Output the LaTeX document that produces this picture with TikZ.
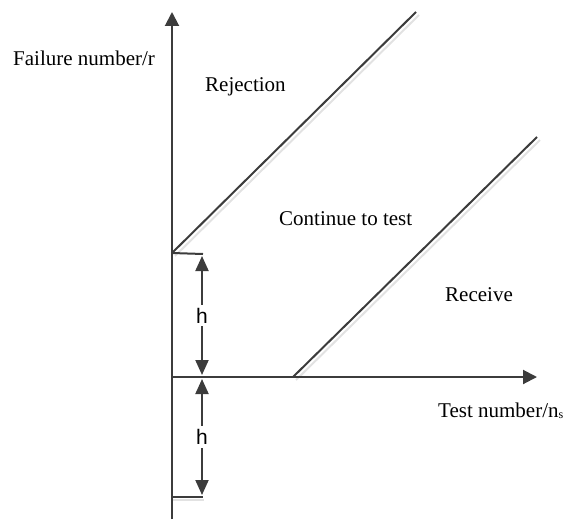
\documentclass[tikz,border=0pt]{standalone}
\usepackage{fontspec}
\setmainfont{Liberation Serif}
\newfontfamily\hfont{Liberation Sans}
\usetikzlibrary{arrows.meta}
\definecolor{ln}{HTML}{3C3C3C}
\definecolor{shd}{HTML}{E2E2E2}
\begin{document}
\begin{tikzpicture}[x=1pt,y=-1pt,
  axis/.style={draw=ln,line width=2pt,-{Triangle[length=14pt,width=14pt]}},
  plain/.style={draw=ln,line width=2pt},
  shadow/.style={draw=shd,line width=2pt},
  harrow/.style={draw=ln,line width=2pt,{Triangle[length=15pt,width=13pt]}-{Triangle[length=15pt,width=13pt]}},
  lbl/.style={font=\fontsize{21}{24}\selectfont,anchor=base west,inner sep=0pt},
  hl/.style={font=\hfont\fontsize{21}{24}\selectfont,fill=white,inner sep=3pt}]
\useasboundingbox (0,0) rectangle (567,519);
% coordinates
\coordinate (O) at (172,377);
\coordinate (ytop) at (172,12);
\coordinate (ybot) at (172,519);
\coordinate (xend) at (537,377);
\coordinate (A) at (172,253);
\coordinate (A2) at (416,12);
\coordinate (B) at (293,377);
\coordinate (B2) at (537,137);
\coordinate (T1) at (203,254);
\coordinate (C) at (172,497);
\coordinate (T2) at (203,497);
\coordinate (h1a) at (202,256);
\coordinate (h1b) at (202,375);
\coordinate (h2a) at (202,379);
\coordinate (h2b) at (202,495);
% shadows
\draw[shadow] ([shift={(3,3)}]A) -- ([shift={(3,3)}]A2);
\draw[shadow] ([shift={(3,3)}]B) -- ([shift={(3,3)}]B2);
\draw[shadow] ([shift={(1,3)}]C) -- ([shift={(1,3)}]T2);
% axes
\draw[axis] (ybot) -- (ytop);
\draw[axis] (O) -- (xend);
% boundary lines
\draw[plain] (A) -- (A2);
\draw[plain] (B) -- (B2);
\draw[plain] (A) -- (T1);
\draw[plain] (C) -- (T2);
% h arrows
\draw[harrow] (h1a) -- node[hl] (h1) {h} (h1b);
\draw[harrow] (h2a) -- node[hl] (h2) {h} (h2b);
% labels
\node[lbl] (ylab) at (13,66) {Failure number/r};
\node[lbl] (rej) at (205,91) {Rejection};
\node[lbl] (cont) at (279,225) {Continue to test};
\node[lbl] (rec) at (445,301) {Receive};
\node[lbl] (xlab) at (438,417) {Test number/n\raisebox{-1pt}{\fontsize{12}{14}\selectfont s}};
\end{tikzpicture}
\end{document}
